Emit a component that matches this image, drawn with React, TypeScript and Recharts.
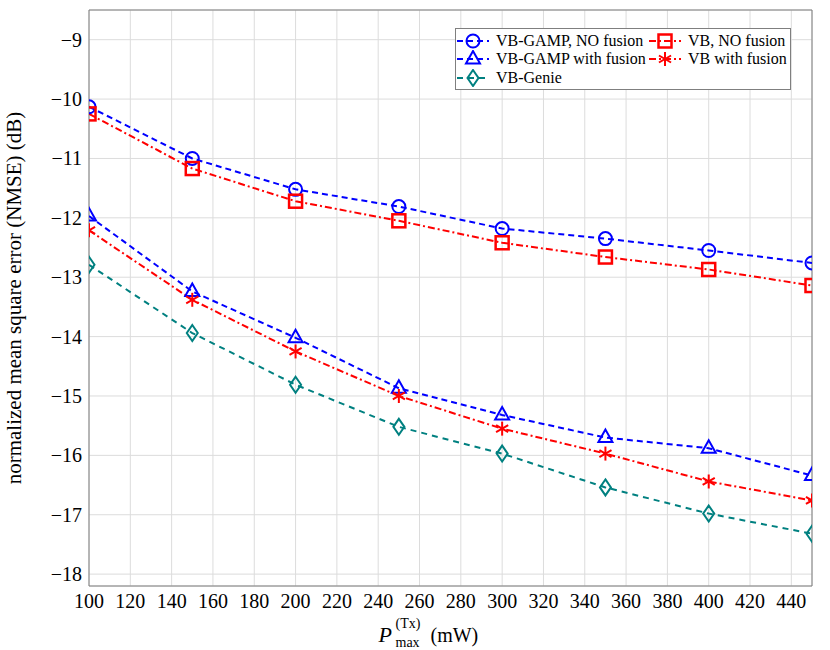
import { LineChart, Line, XAxis, YAxis, CartesianGrid, ReferenceArea } from 'recharts'

const powers = [100, 150, 200, 250, 300, 350, 400, 450]
const vbGampNoFusion = [-10.13, -11.0, -11.52, -11.81, -12.18, -12.35, -12.55, -12.76]
const vbNoFusion = [-10.25, -11.17, -11.72, -12.05, -12.42, -12.66, -12.87, -13.14]
const vbGampFusion = [-11.97, -13.24, -14.02, -14.87, -15.32, -15.7, -15.88, -16.34]
const vbFusion = [-12.21, -13.38, -14.25, -15.0, -15.55, -15.97, -16.44, -16.76]
const vbGenie = [-12.79, -13.94, -14.81, -15.52, -15.97, -16.54, -16.98, -17.32]

const xTicks = [100, 120, 140, 160, 180, 200, 220, 240, 260, 280, 300, 320, 340, 360, 380, 400, 420, 440]
const yTicks = [-18, -17, -16, -15, -14, -13, -12, -11, -10, -9]

const FONT = 'Liberation Serif, DejaVu Serif, serif'
const BLUE = '#0000ff'
const RED = '#ff0000'
const TEAL = '#008080'

const data = powers.map((p, i) => ({
  p,
  gampNo: vbGampNoFusion[i],
  vbNo: vbNoFusion[i],
  gampFus: vbGampFusion[i],
  vbFus: vbFusion[i],
  genie: vbGenie[i],
}))

type Shape = 'circle' | 'square' | 'triangle' | 'star' | 'diamond'

function Marker({ cx, cy, shape, color }: { cx: number; cy: number; shape: Shape; color: string }) {
  if (shape === 'circle') {
    return <circle cx={cx} cy={cy} r={6.5} fill="none" stroke={color} strokeWidth={2} />
  }
  if (shape === 'square') {
    return <rect x={cx - 6.5} y={cy - 6.5} width={13} height={13} fill="none" stroke={color} strokeWidth={2.5} />
  }
  if (shape === 'triangle') {
    return (
      <polygon
        points={`${cx},${cy - 8} ${cx - 7},${cy + 4.5} ${cx + 7},${cy + 4.5}`}
        fill="none"
        stroke={color}
        strokeWidth={2}
      />
    )
  }
  if (shape === 'diamond') {
    return (
      <polygon
        points={`${cx},${cy - 8} ${cx + 5.5},${cy} ${cx},${cy + 8} ${cx - 5.5},${cy}`}
        fill="none"
        stroke={color}
        strokeWidth={2}
      />
    )
  }
  // asterisk: three strokes through the centre
  const r = 7
  const a = (Math.PI / 180) * 30
  return (
    <g stroke={color} strokeWidth={2}>
      <line x1={cx} y1={cy - r} x2={cx} y2={cy + r} />
      <line x1={cx - r * Math.cos(a)} y1={cy - r * Math.sin(a)} x2={cx + r * Math.cos(a)} y2={cy + r * Math.sin(a)} />
      <line x1={cx - r * Math.cos(a)} y1={cy + r * Math.sin(a)} x2={cx + r * Math.cos(a)} y2={cy - r * Math.sin(a)} />
    </g>
  )
}

const SERIES = [
  { key: 'gampNo', name: 'VB-GAMP, NO fusion', color: BLUE, shape: 'circle' as Shape, dash: '6 4' },
  { key: 'vbNo', name: 'VB, NO fusion', color: RED, shape: 'square' as Shape, dash: '7 3 2 3' },
  { key: 'gampFus', name: 'VB-GAMP with fusion', color: BLUE, shape: 'triangle' as Shape, dash: '6 4' },
  { key: 'vbFus', name: 'VB with fusion', color: RED, shape: 'star' as Shape, dash: '7 3 2 3' },
  { key: 'genie', name: 'VB-Genie', color: TEAL, shape: 'diamond' as Shape, dash: '6 5' },
]

const minus = (v: number) => String(v).replace('-', '\u2212')

function XTick({ x, y, payload }: any) {
  return (
    <text x={x} y={y + 22} textAnchor="middle" fontFamily={FONT} fontSize={20} fill="#000">
      {payload.value}
    </text>
  )
}

function YTick({ x, y, payload }: any) {
  return (
    <text x={x} y={y + 7} textAnchor="end" fontFamily={FONT} fontSize={20} fill="#000">
      {minus(payload.value)}
    </text>
  )
}

function XLabel({ viewBox }: any) {
  const cx = viewBox.x + viewBox.width / 2
  const y = viewBox.y + viewBox.height
  return (
    <g fontFamily={FONT} fill="#000">
      <text x={cx - 72} y={y - 8} fontSize={22} fontStyle="italic">P</text>
      <text x={cx - 55} y={y - 3} fontSize={14}>max</text>
      <text x={cx - 55} y={y - 22} fontSize={14}>(Tx)</text>
      <text x={cx - 20} y={y - 8} fontSize={20}>(mW)</text>
    </g>
  )
}

function LegendItem({ s }: { s: (typeof SERIES)[number] }) {
  return (
    <div style={{ display: 'flex', alignItems: 'center', height: 18.3 }}>
      <svg width={34} height={18} style={{ marginRight: 6 }}>
        <line x1={1} y1={9} x2={33} y2={9} stroke={s.color} strokeWidth={2} strokeDasharray={s.dash} />
        <Marker cx={17} cy={9} shape={s.shape} color={s.color} />
      </svg>
      <span>{s.name}</span>
    </div>
  )
}

export default function App() {
  return (
    <div style={{ position: 'absolute', left: 0, top: 0, width: 830, height: 650, background: '#fff' }}>
      <LineChart
        width={830}
        height={650}
        data={data}
        margin={{ top: 10, right: 18, bottom: 0, left: 0 }}
        style={{ fontFamily: FONT }}
      >
        <CartesianGrid stroke="#dcdcdc" strokeWidth={1} />
        <XAxis
          dataKey="p"
          type="number"
          domain={[100, 450]}
          ticks={xTicks}
          allowDataOverflow
          height={64}
          tickLine={false}
          axisLine={false}
          tickSize={0}
          tickMargin={0}
          tick={<XTick />}
          label={<XLabel />}
        />
        <YAxis
          type="number"
          domain={[-18.2, -8.5]}
          ticks={yTicks}
          allowDataOverflow
          width={89}
          tickLine={false}
          axisLine={false}
          tickSize={0}
          tickMargin={7}
          tick={<YTick />}
          label={{
            value: 'normalized mean square error (NMSE) (dB)',
            angle: -90,
            position: 'insideLeft',
            offset: 14,
            style: { fontSize: 21, fontFamily: FONT, fill: '#000', textAnchor: 'middle' },
          }}
        />
        <ReferenceArea x1={100} x2={450} y1={-18.2} y2={-8.5} fill="none" stroke="#7f7f7f" strokeWidth={1} />
        {SERIES.map((s) => (
          <Line
            key={s.key}
            dataKey={s.key}
            name={s.name}
            type="linear"
            stroke={s.color}
            strokeWidth={2}
            strokeDasharray={s.dash}
            isAnimationActive={false}
            dot={(props: any) => (
              <Marker key={`${s.key}-${props.index}`} cx={props.cx} cy={props.cy} shape={s.shape} color={s.color} />
            )}
            activeDot={false}
          />
        ))}
      </LineChart>
      <div
        style={{
          position: 'absolute',
          left: 455,
          top: 28,
          width: 334,
          height: 60,
          border: '1px solid #7f7f7f',
          background: '#fff',
          fontFamily: FONT,
          fontSize: 16,
          padding: 0,
        }}
      >
        <div style={{ display: 'flex', paddingTop: 3 }}>
          <div style={{ width: 192 }}>
            <LegendItem s={SERIES[0]} />
            <LegendItem s={SERIES[2]} />
            <LegendItem s={SERIES[4]} />
          </div>
          <div>
            <LegendItem s={SERIES[1]} />
            <LegendItem s={SERIES[3]} />
          </div>
        </div>
      </div>
    </div>
  )
}
